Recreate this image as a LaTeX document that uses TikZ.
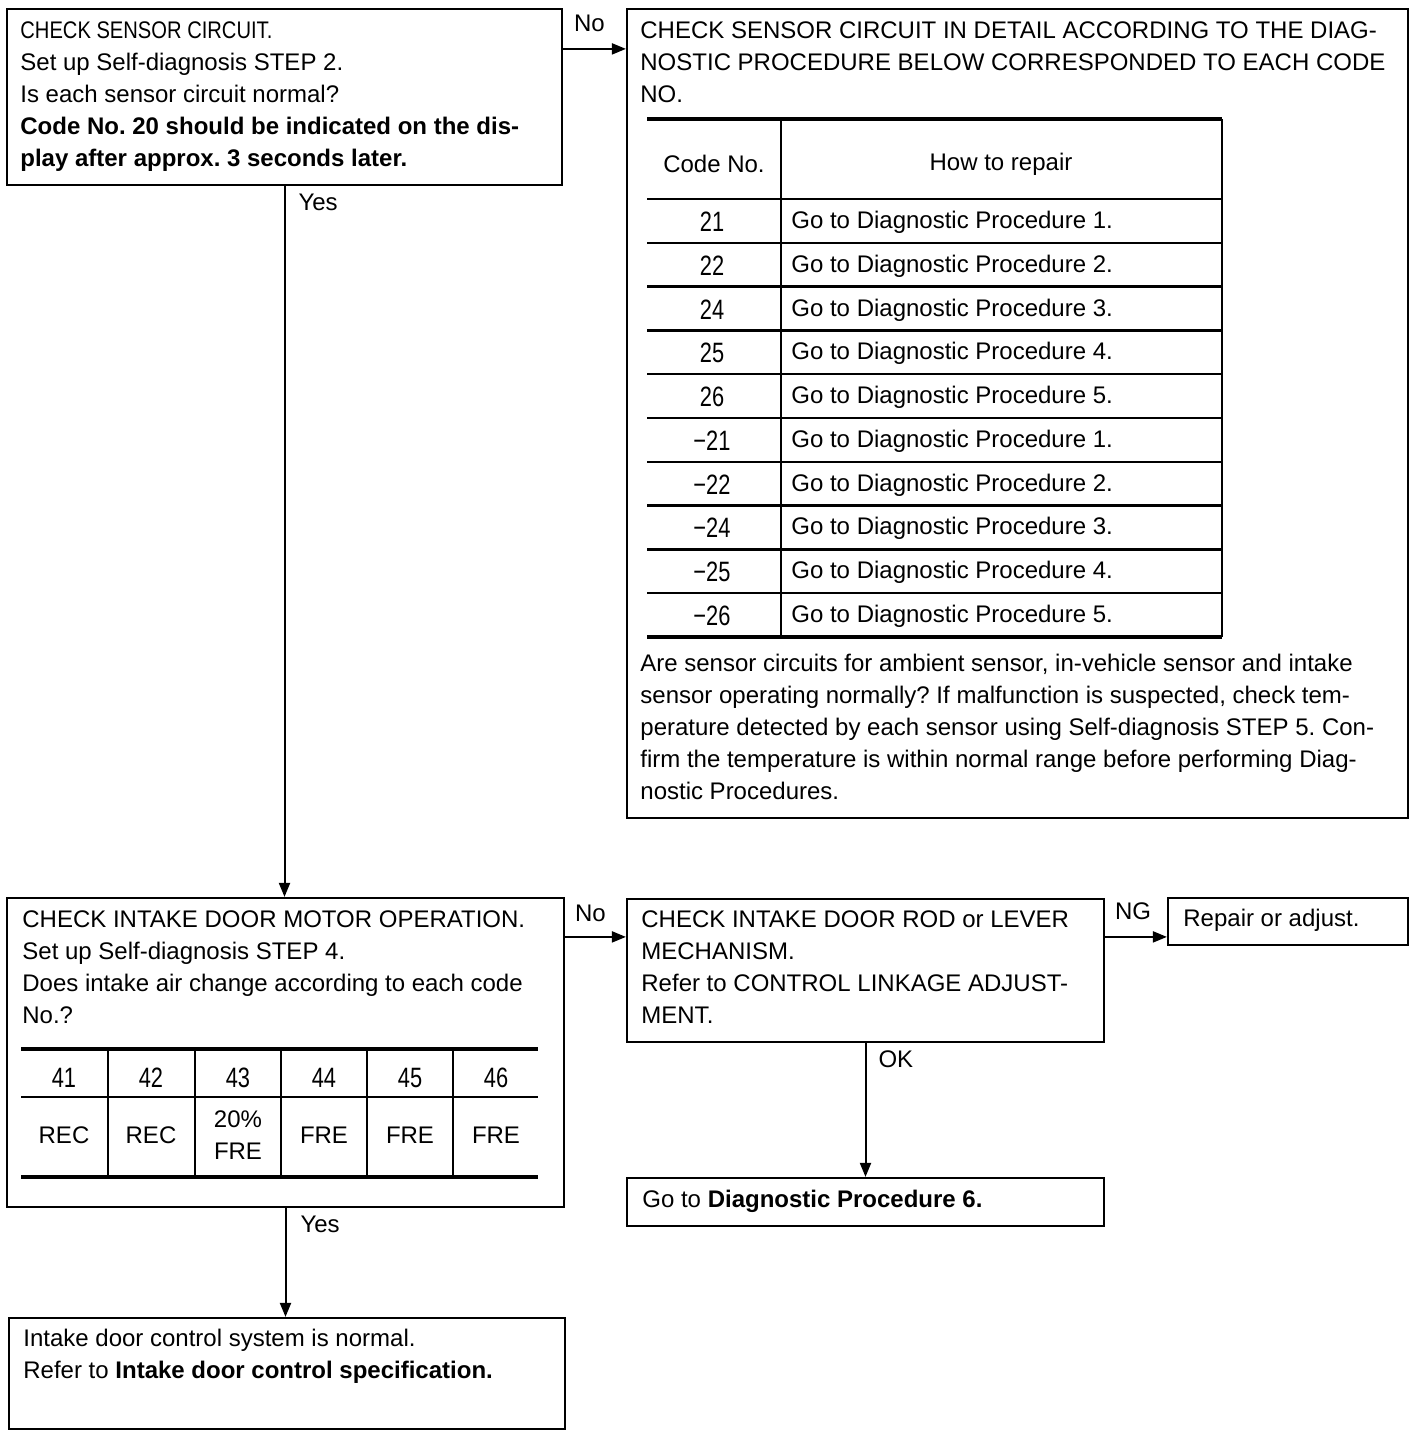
\documentclass[tikz,border=0pt]{standalone}
\usepackage{fontspec}
\setmainfont{Liberation Sans}
\newfontfamily\narrowfont[FakeStretch=0.84]{Liberation Sans}
\newfontfamily\lcdfont[FakeStretch=0.78]{Liberation Sans}
\usetikzlibrary{arrows.meta,fit}
\frenchspacing

\tikzset{
  box/.style={draw,line width=1.1pt,inner sep=0pt},
  txt/.style={anchor=north west,align=left,inner sep=0pt,font=\fontsize{12}{16}\selectfont},
  flow/.style={->,line width=1pt},
  tag/.style={anchor=base west,inner sep=0pt,font=\fontsize{12}{16}\selectfont},
  cell/.style={inner sep=0pt,align=center,font=\fontsize{12}{16}\selectfont},
  lcd/.style={inner sep=0pt,font=\lcdfont\fontsize{14}{16}\selectfont},
  heavyrule/.style={line width=1.9pt},
  lightrule/.style={line width=1.2pt}
}

\begin{document}
\begin{tikzpicture}[x=0.5pt,y=-0.5pt,>={Triangle[length=7pt,width=5.5pt]}]
\useasboundingbox (0,0) rectangle (1424,1436);
% boxes
\node[box,fit={(7,9) (562,185)}] (sensor) {};
\node[box,fit={(627,9) (1408,818)}] (detail) {};
\node[box,fit={(7,898) (564,1207)}] (motor) {};
\node[box,fit={(627,899) (1104,1042)}] (rod) {};
\node[box,fit={(1168,898) (1408,945)}] (repair) {};
\node[box,fit={(627,1178) (1104,1226)}] (proc) {};
\node[box,fit={(9,1318) (565,1429)}] (normal) {};

% box texts
\node[txt] (sensorT) at (20,21) {{\narrowfont CHECK SENSOR CIRCUIT.}\\
  Set up Self-diagnosis STEP 2.\\
  Is each sensor circuit normal?\\
  \textbf{Code No. 20 should be indicated on the dis-}\\
  \textbf{play after approx. 3 seconds later.}};
\node[txt] (detailT) at (640,21) {CHECK SENSOR CIRCUIT IN DETAIL ACCORDING TO THE DIAG-\\
  NOSTIC PROCEDURE BELOW CORRESPONDED TO EACH CODE\\
  NO.};
\node[txt] (detailP) at (640,654) {Are sensor circuits for ambient sensor, in-vehicle sensor and intake\\
  sensor operating normally? If malfunction is suspected, check tem-\\
  perature detected by each sensor using Self-diagnosis STEP 5. Con-\\
  firm the temperature is within normal range before performing Diag-\\
  nostic Procedures.};
\node[txt] (motorT) at (22,910) {CHECK INTAKE DOOR MOTOR OPERATION.\\
  Set up Self-diagnosis STEP 4.\\
  Does intake air change according to each code\\
  No.?};
\node[txt] (rodT) at (641,910) {CHECK INTAKE DOOR ROD or LEVER\\
  MECHANISM.\\
  Refer to CONTROL LINKAGE ADJUST-\\
  MENT.};
\node[txt] (repairT) at (1183,909) {Repair or adjust.};
\node[txt] (procT) at (642,1190) {Go to \textbf{Diagnostic Procedure 6.}};
\node[txt] (normalT) at (23,1329) {Intake door control system is normal.\\
  Refer to \textbf{Intake door control specification.}};

% code table
\draw[heavyrule] (647,119) -- (1222,119);
\draw[lightrule] (781,119) -- (781,637);
\draw[lightrule] (1222,119) -- (1222,637);
\draw[lightrule] (647,199) -- (1222,199);
\draw[lightrule] (647,242.8) -- (1222,242.8);
\draw[lightrule] (647,286.6) -- (1222,286.6);
\draw[lightrule] (647,330.4) -- (1222,330.4);
\draw[lightrule] (647,374.2) -- (1222,374.2);
\draw[lightrule] (647,418) -- (1222,418);
\draw[lightrule] (647,461.8) -- (1222,461.8);
\draw[lightrule] (647,505.6) -- (1222,505.6);
\draw[lightrule] (647,549.4) -- (1222,549.4);
\draw[lightrule] (647,593.2) -- (1222,593.2);
\draw[heavyrule] (647,637) -- (1222,637);
\node[cell] (codeH) at (714,164) {Code No.};
\node[cell] (howH) at (1001,164) {How to repair};
\node[lcd] (c1) at (712,222) {21};
\node[lcd] (c2) at (712,266) {22};
\node[lcd] (c3) at (712,310) {24};
\node[lcd] (c4) at (712,353) {25};
\node[lcd] (c5) at (712,397) {26};
\node[lcd] (c6) at (712,441) {−21};
\node[lcd] (c7) at (712,485) {−22};
\node[lcd] (c8) at (712,528) {−24};
\node[lcd] (c9) at (712,572) {−25};
\node[lcd] (c10) at (712,616) {−26};
\node[cell,anchor=west] (r1) at (791,222) {Go to Diagnostic Procedure 1.};
\node[cell,anchor=west] (r2) at (791,266) {Go to Diagnostic Procedure 2.};
\node[cell,anchor=west] (r3) at (791,310) {Go to Diagnostic Procedure 3.};
\node[cell,anchor=west] (r4) at (791,353) {Go to Diagnostic Procedure 4.};
\node[cell,anchor=west] (r5) at (791,397) {Go to Diagnostic Procedure 5.};
\node[cell,anchor=west] (r6) at (791,441) {Go to Diagnostic Procedure 1.};
\node[cell,anchor=west] (r7) at (791,485) {Go to Diagnostic Procedure 2.};
\node[cell,anchor=west] (r8) at (791,528) {Go to Diagnostic Procedure 3.};
\node[cell,anchor=west] (r9) at (791,572) {Go to Diagnostic Procedure 4.};
\node[cell,anchor=west] (r10) at (791,616) {Go to Diagnostic Procedure 5.};

% air table
\draw[heavyrule] (21,1049) -- (538,1049);
\draw[lightrule] (21,1097) -- (538,1097);
\draw[heavyrule] (21,1177) -- (538,1177);
\draw[lightrule] (108,1049) -- (108,1177);
\draw[lightrule] (195,1049) -- (195,1177);
\draw[lightrule] (281,1049) -- (281,1177);
\draw[lightrule] (367,1049) -- (367,1177);
\draw[lightrule] (453,1049) -- (453,1177);
\node[lcd] (a1) at (64,1078) {41};
\node[lcd] (a2) at (151,1078) {42};
\node[lcd] (a3) at (238,1078) {43};
\node[lcd] (a4) at (324,1078) {44};
\node[lcd] (a5) at (410,1078) {45};
\node[lcd] (a6) at (496,1078) {46};
\node[cell] (m1) at (64,1135) {REC};
\node[cell] (m2) at (151,1135) {REC};
\node[cell] (m3) at (238,1135) {20\%\\FRE};
\node[cell] (m4) at (324,1135) {FRE};
\node[cell] (m5) at (410,1135) {FRE};
\node[cell] (m6) at (496,1135) {FRE};

% connectors
\draw[flow] ([yshift=-20.5pt]sensor.north east) -- ([yshift=-20.5pt]sensor.north east -| detail.west)
  node[pos=0,tag,xshift=5pt,yshift=8.5pt] {No};
\draw[flow] (sensor.south) -- (sensor.south |- motor.north)
  node[pos=0,tag,xshift=6.5pt,yshift=-12pt] {Yes};
\draw[flow] ([yshift=-20pt]motor.north east) -- ([yshift=-20pt]motor.north east -| rod.west)
  node[pos=0,tag,xshift=4.5pt,yshift=7.5pt] {No};
\draw[flow] ([yshift=-19.5pt]rod.north east) -- ([yshift=-19.5pt]rod.north east -| repair.west)
  node[pos=0,tag,xshift=4.5pt,yshift=8.5pt] {NG};
\draw[flow] (rod.south) -- (rod.south |- proc.north)
  node[pos=0,tag,xshift=6pt,yshift=-12pt] {OK};
\draw[flow] (motor.south) -- (motor.south |- normal.north)
  node[pos=0,tag,xshift=7pt,yshift=-12pt] {Yes};
\end{tikzpicture}
\end{document}
